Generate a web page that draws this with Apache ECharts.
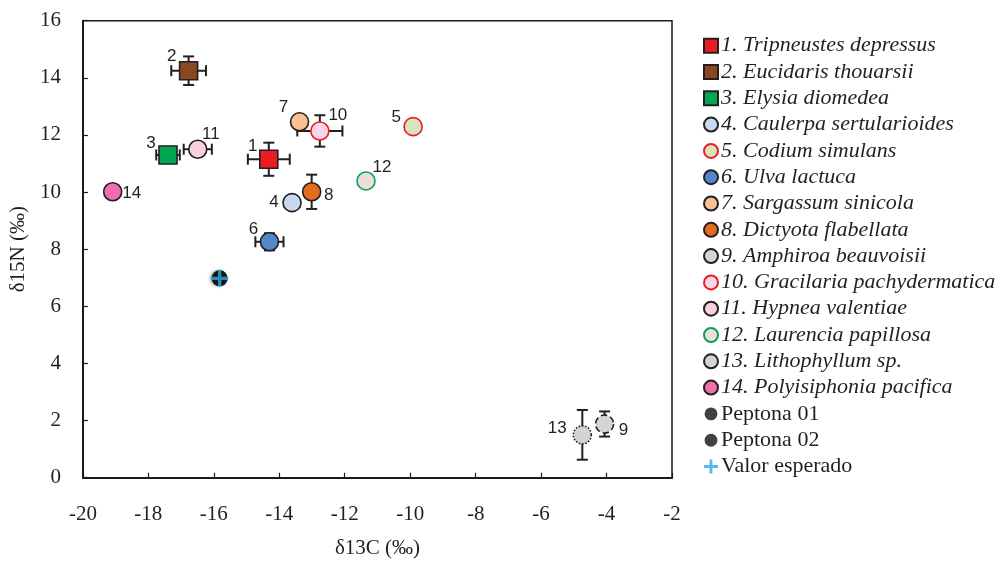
<!DOCTYPE html>
<html>
<head>
<meta charset="utf-8">
<script src="https://cdn.jsdelivr.net/npm/echarts@6/dist/echarts.min.js"></script>
<style>html,body{margin:0;padding:0;background:#fff}#c{width:997px;height:568px}</style>
</head>
<body>
<div id="c"></div>
<script>
// ---- data ----
const categories = [
  '1. Tripneustes depressus', '2. Eucidaris thouarsii', '3. Elysia diomedea',
  '4. Caulerpa sertularioides', '5. Codium simulans', '6. Ulva lactuca',
  '7. Sargassum sinicola', '8. Dictyota flabellata', '9. Amphiroa beauvoisii',
  '10. Gracilaria pachydermatica', '11. Hypnea valentiae', '12. Laurencia papillosa',
  '13. Lithophyllum sp.', '14. Polyisiphonia pacifica'
];
const pointLabels = ['1','2','3','4','5','6','7','8','9','10','11','12','13','14'];
const d13C = [-14.32, -16.77, -17.40, -13.61, -9.91, -14.30, -13.38, -13.01, -4.06, -12.76, -16.49, -11.35, -4.74, -19.09];
const d15N = [11.15, 14.25, 11.30, 9.63, 12.29, 8.26, 12.46, 10.01, 1.88, 12.14, 11.50, 10.39, 1.50, 10.01];
const errC = [0.64, 0.53, 0.36, 0, 0, 0.43, 0, 0, 0, 0.69, 0.43, 0, 0, 0];
const errN = [0.58, 0.50, 0, 0, 0, 0.30, 0, 0.60, 0.44, 0.55, 0, 0, 0.87, 0];
const refNames = ['Peptona 01', 'Peptona 02', 'Valor esperado'];
const refC = [-15.82, -15.82, -15.82];
const refN = [6.98, 6.98, 6.98];
const xTicks = { min: -20, max: -2, interval: 2 };
const yTicks = { min: 0, max: 16, interval: 2 };

// ---- styles (not data) ----
const dark = '#231F20';
const styles = [
  { symbol: 'rect',   fill: '#ED1C24', border: dark,      type: 'solid' },
  { symbol: 'rect',   fill: '#8B4720', border: dark,      type: 'solid' },
  { symbol: 'rect',   fill: '#00A651', border: dark,      type: 'solid' },
  { symbol: 'circle', fill: '#C6D9F1', border: dark,      type: 'solid' },
  { symbol: 'circle', fill: '#D7E4BD', border: '#ED1C24', type: 'solid' },
  { symbol: 'circle', fill: '#5288C8', border: dark,      type: 'solid' },
  { symbol: 'circle', fill: '#FAC090', border: dark,      type: 'solid' },
  { symbol: 'circle', fill: '#E36C1E', border: dark,      type: 'solid' },
  { symbol: 'circle', fill: '#D4D4D4', border: dark,      type: 'dashed' },
  { symbol: 'circle', fill: '#FAD6E6', border: '#ED1C24', type: 'solid' },
  { symbol: 'circle', fill: '#F8CFE0', border: dark,      type: 'solid' },
  { symbol: 'circle', fill: '#F0DCDB', border: '#00A651', type: 'solid' },
  { symbol: 'circle', fill: '#D4D4D4', border: dark,      type: 'dotted' },
  { symbol: 'circle', fill: '#F06EAA', border: dark,      type: 'solid' }
];
const labelOffsets = [[-16,-13],[-17,-14],[-17,-12],[-18,0],[-17,-9],[-16,-12],[-16,-14],[17,4],[19,6],[18,-16],[13,-15],[16,-14],[-25,-7],[19,2]];
const plusPath = 'path://M4,0h2v4h4v2h-4v4h-2v-4h-4v-2h4z';
const smallDot = 'path://M0,0L0.01,0M20,20L19.99,20M10,0.8A9.2,9.2 0 1 1 9.99,0.8Z';

const serif = 'Liberation Serif';
const sans = 'Liberation Sans';

const series = [];
// error bars
const errData = d13C.map((x, i) => [x, d15N[i], errC[i], errN[i]]);
series.push({
  type: 'custom',
  name: 'err',
  z: 1,
  silent: true,
  encode: { x: 0, y: 1 },
  data: errData,
  renderItem: function (params, api) {
    const x = api.value(0), y = api.value(1), ex = api.value(2), ey = api.value(3);
    const cap = 5.5;
    const st = { stroke: dark, lineWidth: 2 };
    const ch = [];
    if (ex > 0) {
      const a = api.coord([x - ex, y]), b = api.coord([x + ex, y]);
      ch.push({ type: 'line', shape: { x1: a[0], y1: a[1], x2: b[0], y2: b[1] }, style: st });
      ch.push({ type: 'line', shape: { x1: a[0], y1: a[1] - cap, x2: a[0], y2: a[1] + cap }, style: st });
      ch.push({ type: 'line', shape: { x1: b[0], y1: b[1] - cap, x2: b[0], y2: b[1] + cap }, style: st });
    }
    if (ey > 0) {
      const a = api.coord([x, y - ey]), b = api.coord([x, y + ey]);
      ch.push({ type: 'line', shape: { x1: a[0], y1: a[1], x2: b[0], y2: b[1] }, style: st });
      ch.push({ type: 'line', shape: { x1: a[0] - cap, y1: a[1], x2: a[0] + cap, y2: a[1] }, style: st });
      ch.push({ type: 'line', shape: { x1: b[0] - cap, y1: b[1], x2: b[0] + cap, y2: b[1] }, style: st });
    }
    return { type: 'group', children: ch };
  }
});

categories.forEach((name, i) => {
  const s = styles[i];
  series.push({
    type: 'scatter',
    name: name,
    z: 3,
    symbol: s.symbol,
    symbolSize: 18,
    data: [[d13C[i], d15N[i]]],
    itemStyle: { color: s.fill, borderColor: s.border, borderWidth: 1.6, borderType: s.type, opacity: 1 },
    label: {
      show: true, position: 'inside', offset: labelOffsets[i],
      formatter: pointLabels[i], color: dark, fontFamily: sans, fontSize: 17
    },
    emphasis: { disabled: true }
  });
});

series.push({
  type: 'scatter', name: refNames[0], z: 4, symbol: 'circle', symbolSize: 16,
  data: [[refC[0], refN[0]]],
  itemStyle: { color: '#111111', borderWidth: 0 }
});
series.push({
  type: 'scatter', name: refNames[1], z: 4, symbol: 'circle', symbolSize: 16,
  data: [[refC[1], refN[1]]],
  itemStyle: { color: '#111111', borderWidth: 0, shadowBlur: 3, shadowColor: 'rgba(0,0,0,0.45)', shadowOffsetX: -2 }
});
series.push({
  type: 'scatter', name: refNames[2], z: 5, symbol: plusPath, symbolSize: 17,
  data: [[refC[2], refN[2]]],
  itemStyle: { color: '#29ABE2' }
});

const legendData = categories.map((n, i) => ({
  name: n, icon: styles[i].symbol,
  textStyle: { fontStyle: 'italic' }
})).concat([
  { name: refNames[0], icon: smallDot, textStyle: { fontStyle: 'normal' } },
  { name: refNames[1], icon: smallDot, textStyle: { fontStyle: 'normal' } },
  { name: refNames[2], icon: plusPath, textStyle: { fontStyle: 'normal' } }
]);

const chart = echarts.init(document.getElementById('c'), null, { renderer: 'canvas' });
chart.setOption({
  animation: false,
  backgroundColor: '#fff',
  grid: { left: 82.7, top: 20.7, right: 325, bottom: 90.3, show: true, borderColor: '#1A1A1A', borderWidth: 1.5, backgroundColor: 'transparent' },
  legend: {
    orient: 'vertical', left: 703, top: 34.7, padding: 0,
    itemWidth: 14, itemHeight: 14, itemGap: 4.3,
    selectedMode: false,
    textStyle: { fontFamily: serif, fontSize: 22, color: dark, padding: [0, 0, 0, -2] },
    data: legendData
  },
  xAxis: {
    type: 'value', min: xTicks.min, max: xTicks.max, interval: xTicks.interval,
    name: 'δ13C (‰)', nameLocation: 'middle', nameGap: 60,
    nameTextStyle: { fontFamily: serif, fontSize: 21, color: dark },
    axisLine: { show: true, onZero: false, lineStyle: { color: '#1A1A1A', width: 2 } },
    axisTick: { show: true, inside: true, length: 5, lineStyle: { color: '#1A1A1A', width: 1.2 } },
    axisLabel: { fontFamily: serif, fontSize: 21, color: dark, margin: 26 },
    splitLine: { show: false }
  },
  yAxis: {
    type: 'value', min: yTicks.min, max: yTicks.max, interval: yTicks.interval,
    name: 'δ15N (‰)', nameLocation: 'middle', nameGap: 45,
    nameTextStyle: { fontFamily: serif, fontSize: 21, color: dark },
    axisLine: { show: true, onZero: false, lineStyle: { color: '#1A1A1A', width: 2 } },
    axisTick: { show: true, inside: true, length: 5, lineStyle: { color: '#1A1A1A', width: 1.2 } },
    axisLabel: { fontFamily: serif, fontSize: 21, color: dark, margin: 22 },
    splitLine: { show: false }
  },
  series: series
});
</script>
</body>
</html>
